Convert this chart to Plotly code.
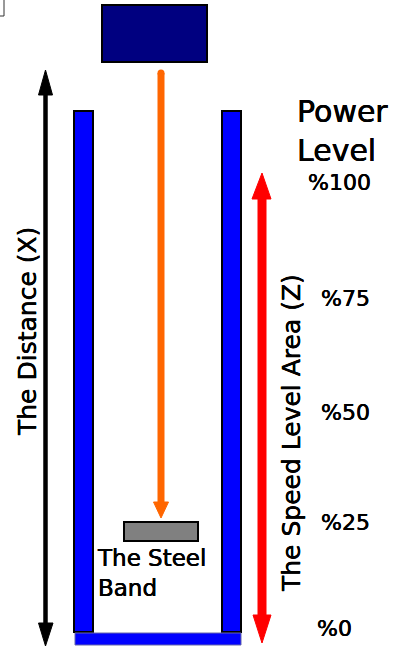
import plotly.graph_objects as go

# ---- content (values / labels) ----
power_levels = [100, 75, 50, 25, 0]
power_labels = ["%100", "%75", "%50", "%25", "%0"]
title_lines = ["Power", "Level"]
band_label = ["The Steel", "Band"]
distance_label = "The Distance (X)"
speed_label = "The Speed Level Area (Z)"

# ---- layout geometry (pixel space of the 406x647 canvas) ----
W, H = 406, 647
label_x = [308, 321, 321, 321, 317]
label_y = [182, 298, 412, 522, 628]

FONT = "DejaVu Sans"
EMBOLDEN = "0.25px 0 0 black, -0.25px 0 0 black"

shapes = []

def rect(x0, y0, x1, y1, fill, line_color="black", lw=2):
    shapes.append(dict(type="rect", xref="x", yref="y", x0=x0, y0=y0, x1=x1, y1=y1,
                       fillcolor=fill, line=dict(color=line_color, width=lw), layer="above"))

def seg(x0, y0, x1, y1, color, lw):
    shapes.append(dict(type="line", xref="x", yref="y", x0=x0, y0=y0, x1=x1, y1=y1,
                       line=dict(color=color, width=lw), layer="above"))

def tri(pts, color):
    p = "M " + " L ".join(f"{x},{y}" for x, y in pts) + " Z"
    shapes.append(dict(type="path", xref="x", yref="y", path=p, fillcolor=color,
                       line=dict(color=color, width=1), layer="above"))

# tiny corner mark
seg(4, 0, 4, 16, "#333333", 1)
seg(0, 16, 4, 16, "#333333", 1)

# navy block at top
rect(102, 5, 207, 62, "#000080")

# walls
rect(74, 111, 93, 632, "#0000FF")
rect(222, 111, 241, 632, "#0000FF")
rect(75, 633, 241, 645, "#0000FF", line_color="#6666aa", lw=1)

# steel band
rect(124, 522, 198, 541, "#808080")

# orange arrow
seg(161, 73, 161, 504, "#FF6600", 7)
shapes.append(dict(type="circle", xref="x", yref="y", x0=157.5, y0=69.5, x1=164.5, y1=76.5,
                   fillcolor="#FF6600", line=dict(width=0), layer="above"))
tri([(153.5, 502), (168.5, 502), (161, 518)], "#FF6600")

# black double arrow
seg(45.5, 92, 45.5, 626, "black", 4.5)
tri([(38.5, 95), (52.5, 95), (45.5, 70)], "black")
tri([(38.5, 623), (53, 623), (45.5, 646)], "black")

# red double arrow
seg(262, 196, 262, 618, "#FF0000", 9)
tri([(252, 199), (271, 199), (262, 173)], "#FF0000")
tri([(253, 615), (271, 615), (262, 643)], "#FF0000")

annotations = []

def text(x, y, s, size, xanchor="left", angle=0, align="left"):
    annotations.append(dict(x=x, y=y, xref="x", yref="y", text=s, showarrow=False,
                            xanchor=xanchor, yanchor="middle", textangle=angle, align=align,
                            font=dict(family=FONT, size=size, color="black", shadow=EMBOLDEN)))

text(295, 131, "<br>".join(title_lines), 30)
for lv, lab, lx, ly in zip(power_levels, power_labels, label_x, label_y):
    text(lx - 2, ly, lab, 22)
text(95, 573, "<br>".join(band_label), 23)
text(27, 332, distance_label, 25, xanchor="center", angle=-90)
text(291, 433, speed_label, 25, xanchor="center", angle=-90)

fig = go.Figure()
fig.add_trace(go.Scatter(x=[0, W], y=[0, H], mode="markers", marker=dict(opacity=0),
                         hoverinfo="skip", showlegend=False))
fig.update_layout(
    width=W, height=H,
    margin=dict(l=0, r=0, t=0, b=0),
    paper_bgcolor="white", plot_bgcolor="white",
    xaxis=dict(range=[0, W], visible=False, fixedrange=True),
    yaxis=dict(range=[H, 0], visible=False, fixedrange=True),
    shapes=shapes, annotations=annotations, showlegend=False,
)
fig.write_html("out.html", config={"displayModeBar": False},
               post_script="document.body.style.margin='0';document.body.style.overflow='hidden';")
